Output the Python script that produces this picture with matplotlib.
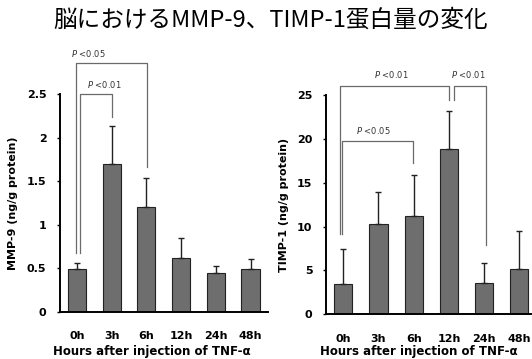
"""Brain MMP-9 / TIMP-1 protein levels after TNF-alpha injection."""

import matplotlib

matplotlib.use("Agg")
import matplotlib.pyplot as plt
import numpy as np

plt.rcParams["font.family"] = ["Noto Sans CJK JP", "DejaVu Sans"]

hours = ["0h", "3h", "6h", "12h", "24h", "48h"]

mmp9_mean = [0.49, 1.70, 1.20, 0.62, 0.44, 0.49]
mmp9_sd = [0.07, 0.44, 0.34, 0.23, 0.08, 0.12]
mmp9_ticks = [0, 0.5, 1, 1.5, 2, 2.5]
mmp9_tick_labels = ["0", "0.5", "1", "1.5", "2", "2.5"]

timp1_mean = [3.5, 10.3, 11.2, 18.9, 3.6, 5.2]
timp1_sd = [3.9, 3.6, 4.7, 4.3, 2.3, 4.3]
timp1_ticks = [0, 5, 10, 15, 20, 25]

# brackets: (left x, right x, top y, left leg bottom, right leg bottom, label, label x, label y)
mmp9_brackets = [
    (-0.03, 2.03, 2.86, 0.68, 1.66, "<0.05", 0.32, 2.97),
    (0.09, 1.0, 2.50, 0.68, 2.24, "<0.01", 0.78, 2.61),
]
timp1_brackets = [
    (-0.05, 1.98, 19.8, 9.2, 17.2, "<0.05", 0.85, 20.9),
    (-0.08, 3.0, 26.0, 9.2, 24.4, "<0.01", 1.35, 27.3),
    (3.15, 4.05, 26.0, 24.4, 7.9, "<0.01", 3.55, 27.3),
]

BAR = "#6e6e6e"
LINE = "#6a6a6a"


def draw_panel(ax, means, sds, ticks, tick_labels, ylabel, brackets):
    x = np.arange(len(hours))
    ax.bar(x, means, 0.52, color=BAR, edgecolor="#222222", linewidth=0.8, zorder=2)
    ax.errorbar(x, means, yerr=[np.zeros(len(sds)), sds], fmt="none",
                ecolor="#222222", elinewidth=1.0, capsize=2.2, capthick=1.0, zorder=3)
    ax.set_xlim(-0.5, 5.5)
    ax.set_ylim(0, ticks[-1])
    ax.set_xticks(x)
    ax.set_xticklabels(hours, fontsize=8, fontweight="bold", family="DejaVu Sans")
    ax.set_yticks(ticks)
    ax.set_yticklabels(tick_labels, fontsize=8, fontweight="bold", family="DejaVu Sans")
    ax.tick_params(axis="x", length=0, pad=14)
    ax.tick_params(axis="y", length=2.5, width=1, pad=7, direction="out")
    for s in ("top", "right"):
        ax.spines[s].set_visible(False)
    ax.spines["left"].set_linewidth(1.4)
    ax.spines["bottom"].set_linewidth(1.4)
    ax.set_ylabel(ylabel, fontsize=8, fontweight="bold", family="DejaVu Sans", labelpad=6)

    for x0, x1, top, b0, b1, label, lx, ly in brackets:
        ax.plot([x0, x0, x1, x1], [b0, top, top, b1], color=LINE, lw=0.9,
                clip_on=False, zorder=1)
        ax.text(lx, ly, "$P$ " + label, fontsize=6, color="#333333",
                ha="center", va="center", family="DejaVu Sans")


fig = plt.figure(figsize=(5.32, 3.59), dpi=100)
ax1 = fig.add_axes([0.1121, 0.1318, 0.3914, 0.6056])
ax2 = fig.add_axes([0.6122, 0.1245, 0.3970, 0.6109])

draw_panel(ax1, mmp9_mean, mmp9_sd, mmp9_ticks, mmp9_tick_labels,
           "MMP-9 (ng/g protein)", mmp9_brackets)
draw_panel(ax2, timp1_mean, timp1_sd, timp1_ticks, [str(t) for t in timp1_ticks],
           "TIMP-1 (ng/g protein)", timp1_brackets)

fig.text(0.285, 0.002, "Hours after injection of TNF-α", fontsize=8.5,
         fontweight="bold", ha="center", va="bottom", family="DejaVu Sans")
fig.text(0.787, 0.002, "Hours after injection of TNF-α", fontsize=8.5,
         fontweight="bold", ha="center", va="bottom", family="DejaVu Sans")

fig.text(0.509, 0.943, "脳におけるMMP-9、TIMP-1蛋白量の変化", fontsize=17,
         ha="center", va="center")

fig.savefig("out.png", dpi=100)
